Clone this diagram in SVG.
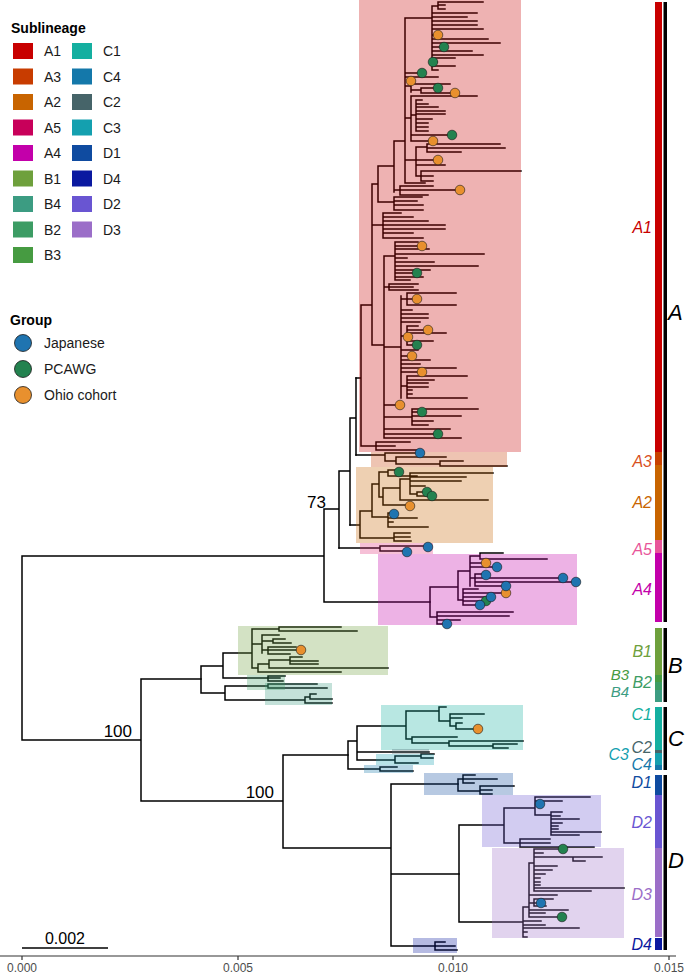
<svg xmlns="http://www.w3.org/2000/svg" width="685" height="975" viewBox="0 0 685 975">
<style>
.t{fill:none;stroke:#000;stroke-width:1.5;stroke-linecap:square}
.hl{fill-opacity:.3;stroke:none}
.dj{fill:#1f74b0;stroke:#1a1a1a;stroke-width:.6}
.dp{fill:#23824f;stroke:#1a1a1a;stroke-width:.6}
.do{fill:#e8902e;stroke:#1a1a1a;stroke-width:.6}
.lg{font-family:"Liberation Sans",Arial,sans-serif;font-size:14px;fill:#1a1a1a}
.lh{font-family:"Liberation Sans",Arial,sans-serif;font-size:14px;font-weight:bold;fill:#000}
.sl{font-family:"Liberation Sans",Arial,sans-serif;font-size:16px;font-style:italic;text-anchor:end}
.sm{font-size:15px}
.gl{font-family:"Liberation Sans",Arial,sans-serif;font-size:22px;font-style:italic;fill:#000}
.bs{font-family:"Liberation Sans",Arial,sans-serif;font-size:17px;fill:#000;text-anchor:end}
.ax{font-family:"Liberation Sans",Arial,sans-serif;font-size:12px;fill:#4d4d4d;text-anchor:middle}
</style>
<g id="connectors">
<path class="t" d="M22 556V740M22 556H324M324 509V602M324 509H339M339 471V548M339 471H350M350 418V525M350 418H356M356 378V455M324 602H430M22 740H141M141 679V801M141 679H201M141 801H283M283 755V848M283 755H348M283 848H391M391 784V946M391 784H458M391 874H459M391 946H435"/>
<path class="t" d="M356 378H361M361 305V446M361 305H372M372 184V345M372 184H378M378 166V202M378 166H394M394 141V192M394 141H405M405 18V183M405 18H432M432 6V70M432 6H438M438 2V9M438 2H483M438 5H445M438 9H445M432 13H477M432 17H467M432 21H477M432 25H477M432 29H483M432 35H438M432 39H488M432 43H500M432 47H444M432 51H472M432 55H483M432 58H455M432 62H437M432 66H455M432 70H438M405 73H422M405 77H438M405 86H411M411 81V92M411 81H413M411 84H450M411 90H421M421 88V93M421 88H438M421 93H455M405 118H411M411 96V141M411 96H477M411 115H416M416 100V131M416 100H422M416 104H428M416 107H438M416 111H445M416 114H445M416 119H432M416 123H428M416 127H428M416 131H428M411 135H452M411 141H433M405 160H416M416 147V176M416 147H427M427 144V152M427 144H500M427 148H505M427 152H461M416 160H438M416 165H445M416 176H421M421 171V181M421 171H521M421 176H433M421 181H433M405 183H425M394 190H400M400 186V195M400 186H433M400 190H460M400 195H428M378 202H394M394 197V210M394 197H422M394 201H417M394 205H423M394 210H423M372 225H383M383 213V238M383 213H401M383 217H413M383 221H428M383 225H445M383 229H445M383 233H413M383 238H423M372 345H384M384 256V438M384 256H395M395 242V280M395 242H418M395 246H422M395 249H429M395 254H484M395 258H407M395 262H434M395 266H478M395 270H430M395 273H417M395 277H423M395 280H410M384 287H389M389 284V290M389 284H418M389 287H413M389 290H418M384 347H401M401 296V398M401 299H407M407 293V305M407 293H456M407 299H417M407 305H456M401 310H412M401 314H428M401 318H428M401 322H420M401 336H407M407 326V345M407 326H418M407 330H428M407 333H446M407 337H409M407 341H433M407 345H417M401 350H418M401 356H412M401 360H430M401 364H420M401 368H456M401 372H422M401 386H407M407 376V398M407 376H467M407 380H434M407 383H428M407 387H428M407 390H412M407 394H412M407 398H467M384 405H400M384 417H412M412 409V425M412 409H478M412 412H422M412 416H461M412 421H433M412 425H428M384 429H450M384 434H438M384 438H461M361 446H376M376 442V450M376 442H410M376 446H395M376 450H420"/>
<path class="t" d="M356 455H385M385 453V461M385 453H420M385 461H396M396 457V464M396 457H446M396 464H440M440 461V466M440 461H463M440 466H507"/>
<path class="t" d="M350 525H360M360 511V538M360 538H394M394 533V541M394 533H410M394 537H410M394 541H411M360 511H372M372 484V517M372 517H388M388 513V527M388 513H394M388 518H417M388 522H393M388 527H428M372 484H379M379 472V497M379 472H388M388 470V476M388 470H399M388 476H417M379 497H383M383 488V505M383 488H400M400 479V500M400 479H410M410 473V494M410 473H493M410 477H466M410 481H461M410 486H425M410 494H417M417 492V496M417 492H427M417 496H432M400 500H488M383 505H410"/>
<path class="t" d="M339 548H380M380 546V551M380 546H428M380 551H407"/>
<path class="t" d="M430 587V617M430 587H458M430 617H437M458 571V600M458 571H470M458 600H463M470 556V586M470 556H480M480 553V559M480 553H503M480 559H547M470 563H486M470 567H497M470 578H475M475 574V586M475 574H486M475 578H563M475 582H576M475 586H506M463 589V605M463 589H478M463 593H506M463 597H491M463 601H486M463 605H480M437 612V624M437 612H513M437 616H509M437 620H460M437 624H447"/>
<path class="t" d="M201 666V693M201 666H223M223 653V678M223 653H252M252 629V668M252 629H279M279 627V631M279 627H341M279 631H357M252 644H262M262 635V653M262 635H279M262 641H273M273 639V643M273 639H285M273 643H291M262 650H268M268 647V654M268 647H296M268 650H301M268 654H290M252 668H258M258 664V672M258 664H269M269 660V668M269 660H290M290 657V664M290 657H302M290 661H318M290 664H318M269 668H388M258 672H341M223 678H268M268 676V681M268 676H285M268 678H280M268 681H283M201 693H225M225 686V700M225 686H268M268 684V688M268 684H317M268 688H327M225 700H305M305 697V703M305 697H310M310 694V699M310 694H316M310 699H332M305 703H332"/>
<path class="t" d="M348 741V769M348 741H357M357 726V760M357 726H406M406 711V739M406 711H439M439 707V721M439 707H446M439 721H450M450 714V726M450 714H484M450 718H462M450 726H456M456 723V729M456 723H462M456 729H478M406 739H412M412 737V743M412 737H457M412 743H449M449 741V746M449 741H523M449 746H493M493 744V748M493 744H517M493 748H508M357 752H429M357 760H395M395 756V763M395 756H421M421 754V758M421 754H434M421 758H433M395 763H418M348 769H380M380 767V771M380 767H397M380 771H413"/>
<path class="t" d="M458 779V791M458 779H463M463 775V783M463 775H475M463 779H497M463 783H474M458 791H480M480 786V794M480 786H514M480 790H492M480 794H492M459 825V922M459 825H504M504 808V843M504 808H535M535 797V815M535 797H590M535 801H562M535 804H540M535 815H551M551 812V835M551 812H562M551 816H560M551 819H579M551 823H562M551 826H558M551 829H558M551 832H601M551 835H579M504 843H520M520 839V847M520 839H550M520 843H550M520 847H594M459 922H523M523 907V937M523 907H529M529 863V917M529 863H534M534 849V891M534 849H563M534 853H543M534 857H573M573 857V861M573 857H602M573 861H585M534 866H557M534 870H552M534 874H545M534 878H540M534 882H540M534 885H540M534 888H624M534 891H591M529 895H557M529 903H534M534 899V906M534 899H553M534 903H541M534 906H546M529 910H568M529 913H545M529 917H562M523 921H541M523 925H545M523 928H579M523 932H527M523 937H527M435 942V950M435 942H445M435 946H455M435 950H457"/>
</g>
<g id="highlights">
<rect id="hl-A1" class="hl" x="359" y="0" width="162" height="452" fill="#c80000"/>
<rect id="hl-A3" class="hl" x="371" y="452" width="136" height="15" fill="#c83c00"/>
<rect id="hl-A2" class="hl" x="356" y="467" width="137" height="76" fill="#c86400"/>
<rect id="hl-A5" class="hl" x="360" y="543" width="73" height="11" fill="#e0307a"/>
<rect id="hl-A4" class="hl" x="378" y="554" width="199" height="71" fill="#c300aa"/>
<rect id="hl-B1" class="hl" x="238" y="626" width="150" height="49" fill="#6ea03c"/>
<rect id="hl-B4" class="hl" x="265" y="683" width="67" height="22" fill="#3c9c82"/>
<rect id="hl-B2" class="hl" x="247" y="675" width="38" height="15" fill="#3c9c64"/>
<rect id="hl-C1" class="hl" x="381" y="705" width="142" height="45" fill="#14afa0"/>
<rect id="hl-C2" class="hl" x="392" y="749" width="37" height="5" fill="#466469"/>
<rect id="hl-C3" class="hl" x="376" y="754" width="58" height="11" fill="#14a0af"/>
<rect id="hl-C4" class="hl" x="364" y="765" width="49" height="8" fill="#1478aa"/>
<rect id="hl-D1" class="hl" x="424" y="773" width="89" height="22" fill="#0f4ba0"/>
<rect id="hl-D2" class="hl" x="482" y="795" width="119" height="52" fill="#6955d2"/>
<rect id="hl-D3" class="hl" x="492" y="848" width="132" height="90" fill="#9b6ec8"/>
<rect id="hl-D4" class="hl" x="413" y="938" width="44" height="15" fill="#0a19a0"/>
</g>
<g id="samples">
<circle class="do" cx="438" cy="35" r="4.8"/><circle class="do" cx="411" cy="81" r="4.8"/><circle class="do" cx="455" cy="93" r="4.8"/><circle class="do" cx="433" cy="141" r="4.8"/><circle class="do" cx="438" cy="160" r="4.8"/><circle class="do" cx="460" cy="190" r="4.8"/><circle class="do" cx="422" cy="246" r="4.8"/><circle class="do" cx="417" cy="299" r="4.8"/><circle class="do" cx="428" cy="330" r="4.8"/><circle class="do" cx="408" cy="337" r="4.8"/><circle class="do" cx="412" cy="356" r="4.8"/><circle class="do" cx="422" cy="372" r="4.8"/><circle class="do" cx="400" cy="405" r="4.8"/><circle class="do" cx="410" cy="506" r="4.8"/><circle class="do" cx="486" cy="563" r="4.8"/><circle class="do" cx="506" cy="593" r="4.8"/><circle class="do" cx="301" cy="650" r="4.8"/><circle class="do" cx="478" cy="729" r="4.8"/>
<circle class="dp" cx="444" cy="47" r="4.8"/><circle class="dp" cx="433" cy="62" r="4.8"/><circle class="dp" cx="422" cy="73" r="4.8"/><circle class="dp" cx="438" cy="88" r="4.8"/><circle class="dp" cx="452" cy="135" r="4.8"/><circle class="dp" cx="417" cy="273" r="4.8"/><circle class="dp" cx="417" cy="345" r="4.8"/><circle class="dp" cx="422" cy="412" r="4.8"/><circle class="dp" cx="438" cy="434" r="4.8"/><circle class="dp" cx="399" cy="472" r="4.8"/><circle class="dp" cx="427" cy="492" r="4.8"/><circle class="dp" cx="432" cy="496" r="4.8"/><circle class="dp" cx="486" cy="601" r="4.8"/><circle class="dp" cx="563" cy="849" r="4.8"/><circle class="dp" cx="562" cy="917" r="4.8"/>
<circle class="dj" cx="420" cy="453" r="4.8"/><circle class="dj" cx="394" cy="514" r="4.8"/><circle class="dj" cx="428" cy="547" r="4.8"/><circle class="dj" cx="407" cy="552" r="4.8"/><circle class="dj" cx="497" cy="567" r="4.8"/><circle class="dj" cx="486" cy="575" r="4.8"/><circle class="dj" cx="563" cy="578" r="4.8"/><circle class="dj" cx="576" cy="582" r="4.8"/><circle class="dj" cx="506" cy="586" r="4.8"/><circle class="dj" cx="491" cy="597" r="4.8"/><circle class="dj" cx="480" cy="605" r="4.8"/><circle class="dj" cx="447" cy="624" r="4.8"/><circle class="dj" cx="540" cy="804" r="4.8"/><circle class="dj" cx="541" cy="903" r="4.8"/>
</g>
<g id="support-labels">
<text class="bs" x="326" y="508">73</text>
<text class="bs" x="132" y="737">100</text>
<text class="bs" x="274" y="798">100</text>
</g>
<g id="sublineage-bars">
<rect x="655" y="2" width="7" height="450" fill="#c80000"/>
<rect x="655" y="452" width="7" height="13" fill="#c84100"/>
<rect x="655" y="465" width="7" height="75" fill="#c86400"/>
<rect x="655" y="540" width="7" height="13" fill="#e8559a"/>
<rect x="655" y="553" width="7" height="69" fill="#c300aa"/>
<rect x="655" y="628" width="7" height="47" fill="#6ea03c"/>
<rect x="655" y="675" width="7" height="7" fill="#469b41"/>
<rect x="655" y="682" width="7" height="8" fill="#3c9c64"/>
<rect x="655" y="690" width="7" height="12" fill="#3c9c82"/>
<rect x="655" y="707" width="7" height="43" fill="#14afa0"/>
<rect x="655" y="750" width="7" height="3" fill="#466469"/>
<rect x="655" y="753" width="7" height="12" fill="#14a0af"/>
<rect x="655" y="765" width="7" height="5" fill="#1478aa"/>
<rect x="655" y="775" width="7" height="20" fill="#0f4ba0"/>
<rect x="655" y="795" width="7" height="53" fill="#6955d2"/>
<rect x="655" y="848" width="7" height="89" fill="#9b6ec8"/>
<rect x="655" y="938" width="7" height="12" fill="#0a19a0"/>
<rect x="663.5" y="2" width="3.5" height="620" fill="#000"/>
<rect x="663.5" y="628" width="3.5" height="74" fill="#000"/>
<rect x="663.5" y="707" width="3.5" height="63" fill="#000"/>
<rect x="663.5" y="775" width="3.5" height="175" fill="#000"/>
</g>
<g id="sublineage-labels">
<text class="sl" x="652" y="233" fill="#c80000">A1</text>
<text class="sl" x="652" y="467" fill="#d8501e">A3</text>
<text class="sl" x="652" y="508" fill="#c86400">A2</text>
<text class="sl" x="652" y="555" fill="#e8559a">A5</text>
<text class="sl" x="652" y="595" fill="#c300aa">A4</text>
<text class="sl" x="652" y="657" fill="#6ea03c">B1</text>
<text class="sl sm" x="629" y="680" fill="#469b41">B3</text>
<text class="sl" x="652" y="688" fill="#3c9c64">B2</text>
<text class="sl sm" x="629" y="697" fill="#3c9c82">B4</text>
<text class="sl" x="652" y="720" fill="#14afa0">C1</text>
<text class="sl" x="652" y="753" fill="#466469">C2</text>
<text class="sl" x="629" y="760" fill="#14a0af">C3</text>
<text class="sl" x="652" y="770" fill="#1478aa">C4</text>
<text class="sl" x="652" y="788" fill="#0f4ba0">D1</text>
<text class="sl" x="652" y="828" fill="#6955d2">D2</text>
<text class="sl" x="652" y="900" fill="#9b6ec8">D3</text>
<text class="sl" x="652" y="950" fill="#0a19a0">D4</text>
<text class="gl" x="668" y="320">A</text>
<text class="gl" x="668" y="673">B</text>
<text class="gl" x="668" y="746">C</text>
<text class="gl" x="668" y="868">D</text>
</g>
<g id="legend-sublineage">
<text class="lh" x="11" y="33">Sublineage</text>
<rect x="13" y="43" width="20" height="16" fill="#c80000"/><text class="lg" x="44" y="56">A1</text>
<rect x="13" y="68.5" width="20" height="16" fill="#c83c00"/><text class="lg" x="44" y="81.5">A3</text>
<rect x="13" y="94" width="20" height="16" fill="#c86400"/><text class="lg" x="44" y="107">A2</text>
<rect x="13" y="119.5" width="20" height="16" fill="#c8005a"/><text class="lg" x="44" y="132.5">A5</text>
<rect x="13" y="145" width="20" height="16" fill="#c300aa"/><text class="lg" x="44" y="158">A4</text>
<rect x="13" y="170.5" width="20" height="16" fill="#6ea03c"/><text class="lg" x="44" y="183.5">B1</text>
<rect x="13" y="196" width="20" height="16" fill="#3c9c82"/><text class="lg" x="44" y="209">B4</text>
<rect x="13" y="221.5" width="20" height="16" fill="#3c9c64"/><text class="lg" x="44" y="234.5">B2</text>
<rect x="13" y="247" width="20" height="16" fill="#469b41"/><text class="lg" x="44" y="260">B3</text>
<rect x="72" y="43" width="20" height="16" fill="#14afa0"/><text class="lg" x="103" y="56">C1</text>
<rect x="72" y="68.5" width="20" height="16" fill="#1478aa"/><text class="lg" x="103" y="81.5">C4</text>
<rect x="72" y="94" width="20" height="16" fill="#466469"/><text class="lg" x="103" y="107">C2</text>
<rect x="72" y="119.5" width="20" height="16" fill="#14a0af"/><text class="lg" x="103" y="132.5">C3</text>
<rect x="72" y="145" width="20" height="16" fill="#0f4ba0"/><text class="lg" x="103" y="158">D1</text>
<rect x="72" y="170.5" width="20" height="16" fill="#0a19a0"/><text class="lg" x="103" y="183.5">D4</text>
<rect x="72" y="196" width="20" height="16" fill="#6955d2"/><text class="lg" x="103" y="209">D2</text>
<rect x="72" y="221.5" width="20" height="16" fill="#9b6ec8"/><text class="lg" x="103" y="234.5">D3</text>
</g>
<g id="legend-group">
<text class="lh" x="10" y="325">Group</text>
<circle cx="23" cy="343" r="8.5" fill="#1f74b0" stroke="#1a1a1a" stroke-width=".8"/><text class="lg" x="44" y="348">Japanese</text>
<circle cx="23" cy="369" r="8.5" fill="#23824f" stroke="#1a1a1a" stroke-width=".8"/><text class="lg" x="44" y="374">PCAWG</text>
<circle cx="23" cy="395" r="8.5" fill="#e8902e" stroke="#1a1a1a" stroke-width=".8"/><text class="lg" x="44" y="400">Ohio cohort</text>
</g>
<g id="scale-bar">
<path d="M22 948H108" stroke="#000" stroke-width="1.5"/>
<text x="65" y="944" font-family="Liberation Sans, Arial, sans-serif" font-size="16" text-anchor="middle" fill="#000">0.002</text>
</g>
<g id="axis">
<path d="M0 956H676M22 956V960M238 956V960M453 956V960M669 956V960" stroke="#333" stroke-width="1.2" fill="none"/>
<text class="ax" x="22" y="972">0.000</text>
<text class="ax" x="238" y="972">0.005</text>
<text class="ax" x="453" y="972">0.010</text>
<text class="ax" x="669" y="972">0.015</text>
</g>
</svg>
